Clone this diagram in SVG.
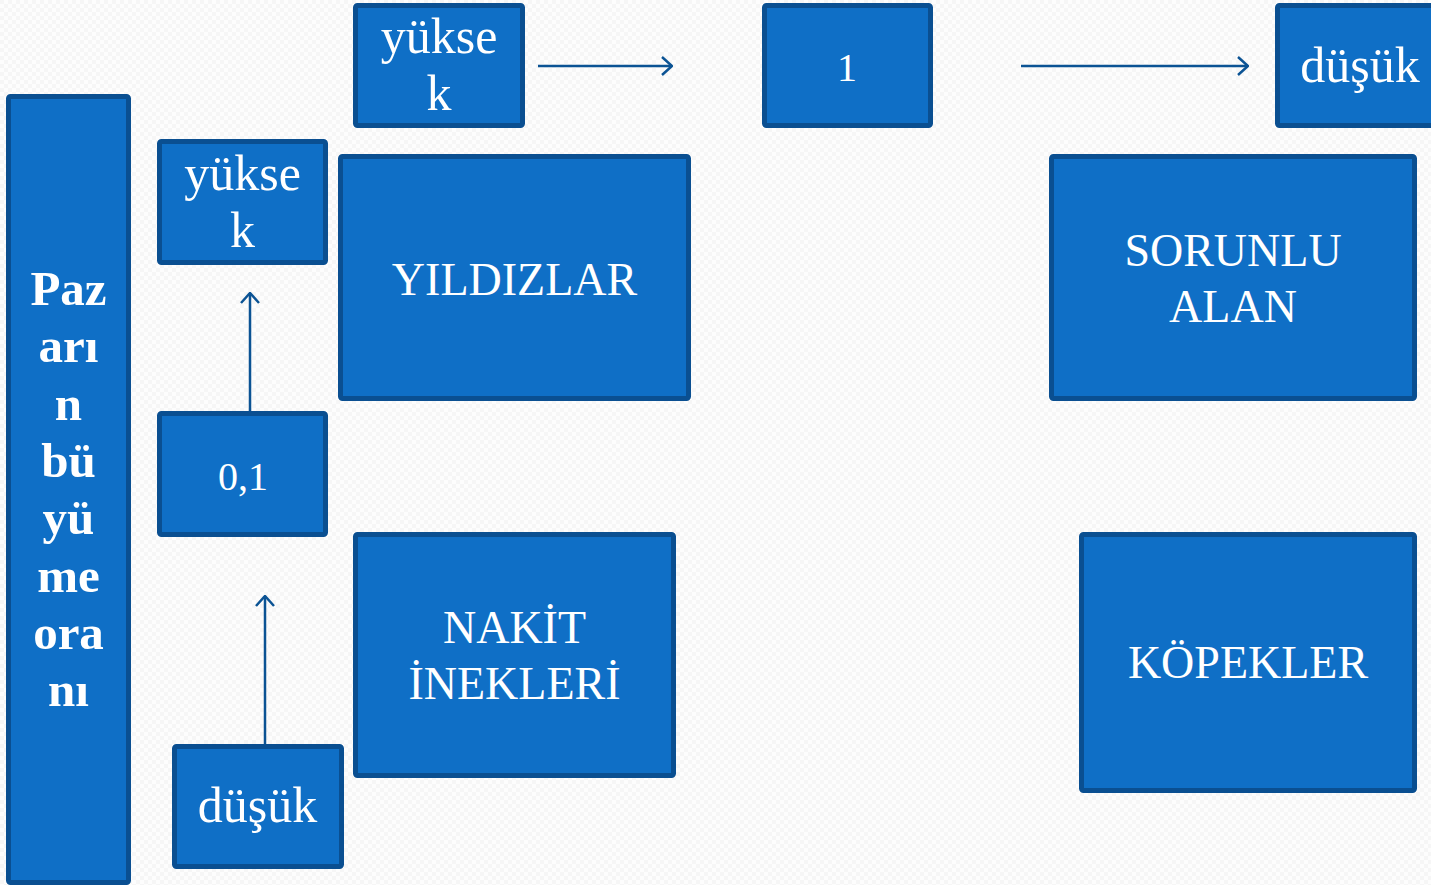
<svg xmlns="http://www.w3.org/2000/svg" width="1431" height="885" viewBox="0 0 1431 885">
  <defs>
    <pattern id="bgTile" width="8" height="8" patternUnits="userSpaceOnUse">
      <rect width="8" height="8" fill="#fdfdfd"/>
      <rect width="4" height="4" fill="#f6f6f6"/>
      <rect x="4" y="4" width="4" height="4" fill="#f6f6f6"/>
    </pattern>
    <marker id="chevron" viewBox="0 0 12 20" refX="11" refY="10" markerWidth="12" markerHeight="20" markerUnits="userSpaceOnUse" orient="auto">
      <path d="M1,1 L11,10 L1,19" fill="none" stroke="#0B5394" stroke-width="2.5"/>
    </marker>
    <style>
      .box { fill: #0F6FC6; stroke: #0A4F91; stroke-width: 5; }
      .lbl { fill: #ffffff; font-family: "Liberation Serif", "DejaVu Serif", serif; font-size: 46px; text-anchor: middle; }
      .low { font-size: 50px; }
      .num { font-size: 40px; }
      .bold { font-weight: bold; font-size: 49px; }
      .conn { stroke: #0B5394; stroke-width: 2.5; fill: none; marker-end: url(#chevron); }
    </style>
  </defs>

  <rect width="1431" height="885" fill="url(#bgTile)"/>

  <!-- vertical axis title -->
  <g id="axis-growth">
    <rect class="box" x="8.5" y="96.5" width="120" height="786" rx="2"/>
    <text class="lbl bold" x="68.5" y="305">Paz</text>
    <text class="lbl bold" x="68.5" y="362">arı</text>
    <text class="lbl bold" x="68.5" y="420">n</text>
    <text class="lbl bold" x="68.5" y="477">bü</text>
    <text class="lbl bold" x="68.5" y="534">yü</text>
    <text class="lbl bold" x="68.5" y="592">me</text>
    <text class="lbl bold" x="68.5" y="649">ora</text>
    <text class="lbl bold" x="68.5" y="706">nı</text>
  </g>

  <!-- horizontal scale labels -->
  <g id="share-high">
    <rect class="box" x="355.5" y="5.5" width="167" height="120" rx="2"/>
    <text class="lbl low" x="439" y="53">yükse</text>
    <text class="lbl low" x="439" y="110">k</text>
  </g>
  <g id="share-one">
    <rect class="box" x="764.5" y="5.5" width="166" height="120" rx="2"/>
    <text class="lbl num" x="847" y="81">1</text>
  </g>
  <g id="share-low">
    <rect class="box" x="1277.5" y="5.5" width="168" height="120" rx="2"/>
    <text class="lbl low" x="1360" y="82">düşük</text>
  </g>

  <!-- vertical scale labels -->
  <g id="growth-high">
    <rect class="box" x="159.5" y="141.5" width="166" height="121" rx="2"/>
    <text class="lbl low" x="242.5" y="190">yükse</text>
    <text class="lbl low" x="242.5" y="247">k</text>
  </g>
  <g id="growth-mid">
    <rect class="box" x="159.5" y="413.5" width="166" height="121" rx="2"/>
    <text class="lbl num" x="243" y="490">0,1</text>
  </g>
  <g id="growth-low">
    <rect class="box" x="174.5" y="746.5" width="167" height="120" rx="2"/>
    <text class="lbl low" x="257.5" y="822">düşük</text>
  </g>

  <!-- matrix quadrants -->
  <g id="stars">
    <rect class="box" x="340.5" y="156.5" width="348" height="242" rx="2"/>
    <text class="lbl" x="514.5" y="295">YILDIZLAR</text>
  </g>
  <g id="question-marks">
    <rect class="box" x="1051.5" y="156.5" width="363" height="242" rx="2"/>
    <text class="lbl" x="1233" y="266">SORUNLU</text>
    <text class="lbl" x="1233" y="322">ALAN</text>
  </g>
  <g id="cash-cows">
    <rect class="box" x="355.5" y="534.5" width="318" height="241" rx="2"/>
    <text class="lbl" x="514.5" y="643">NAKİT</text>
    <text class="lbl" x="514.5" y="699">İNEKLERİ</text>
  </g>
  <g id="dogs">
    <rect class="box" x="1081.5" y="534.5" width="333" height="256" rx="2"/>
    <text class="lbl" x="1248" y="678">KÖPEKLER</text>
  </g>

  <!-- connectors -->
  <g id="connectors">
    <line class="conn" x1="538" y1="66" x2="672" y2="66"/>
    <line class="conn" x1="1021" y1="66" x2="1248" y2="66"/>
    <line class="conn" x1="250" y1="411" x2="250" y2="293"/>
    <line class="conn" x1="265" y1="744" x2="265" y2="596"/>
  </g>
</svg>
